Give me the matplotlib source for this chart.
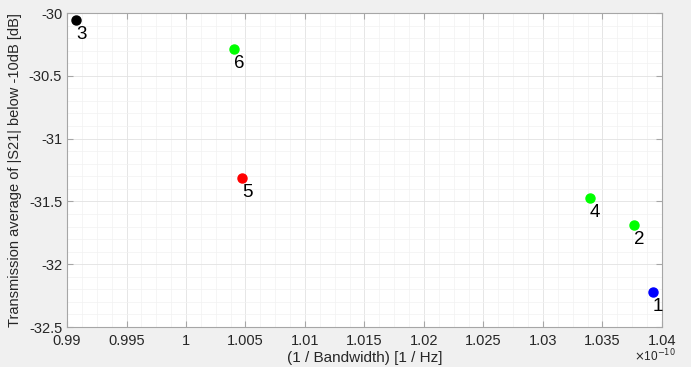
import matplotlib
matplotlib.use("Agg")
import matplotlib.pyplot as plt
from matplotlib.ticker import MultipleLocator, FuncFormatter

# Data (x in units of 1e-10 1/Hz)
labels = ["1", "2", "3", "4", "5", "6"]
x_vals = [1.03924, 1.03765, 0.99076, 1.03395, 1.00471, 1.00403]
y_vals = [-32.221, -31.688, -30.056, -31.473, -31.314, -30.287]
colors = ["#0000ff", "#00ff00", "#000000", "#00ff00", "#ff0000", "#00ff00"]

plt.rcParams['font.family'] = ['Liberation Sans', 'DejaVu Sans']

fig = plt.figure(figsize=(6.91, 3.67), dpi=100, facecolor="#f0f0f0")
ax = fig.add_axes([67/691, 1-327/367, (662-67)/691, (327-13)/367])
ax.set_facecolor("white")

for lab, x, y, c in zip(labels, x_vals, y_vals, colors):
    ax.plot(x, y, 'o', color=c, markersize=6.5, zorder=3)
    ax.annotate(lab, (x, y), xytext=(0, -4.5), textcoords='offset points',
                ha='left', va='top', fontsize=13.5, color='black', zorder=4)

ax.set_xlim(0.99, 1.04)
ax.set_ylim(-32.5, -30)
ax.xaxis.set_major_locator(MultipleLocator(0.005))
ax.xaxis.set_minor_locator(MultipleLocator(0.00125))
ax.yaxis.set_major_locator(MultipleLocator(0.5))
ax.yaxis.set_minor_locator(MultipleLocator(0.1))

ax.xaxis.set_major_formatter(FuncFormatter(lambda v, p: ('%.3f' % v).rstrip('0').rstrip('.')))
ax.yaxis.set_major_formatter(FuncFormatter(lambda v, p: ('%.1f' % v).rstrip('0').rstrip('.')))

ax.grid(which='major', color='#e2e2e2', linewidth=0.6)
ax.grid(which='minor', color='#f1f1f1', linewidth=0.5)
ax.set_axisbelow(True)

for s in ax.spines.values():
    s.set_color('#a6a6a6')
    s.set_linewidth(0.8)

ax.tick_params(which='both', direction='in', top=True, right=True, colors='#a6a6a6',
               labelcolor='#262626', labelsize=10.5)
ax.tick_params(which='major', length=4)
ax.tick_params(axis='x', which='major', pad=5)
ax.tick_params(which='minor', length=0)

ax.set_xlabel("(1 / Bandwidth) [1 / Hz]", fontsize=11, color='#262626', labelpad=2)
ax.set_ylabel("Transmission average of |S21| below -10dB [dB]", fontsize=10.5, color='#262626', labelpad=5)

fig.text(676/691, 1-356/367, r"$\times$10$^{-10}$", fontsize=8.5, color='#262626', ha='right', va='center')

fig.savefig("out.png", dpi=100, facecolor=fig.get_facecolor())
